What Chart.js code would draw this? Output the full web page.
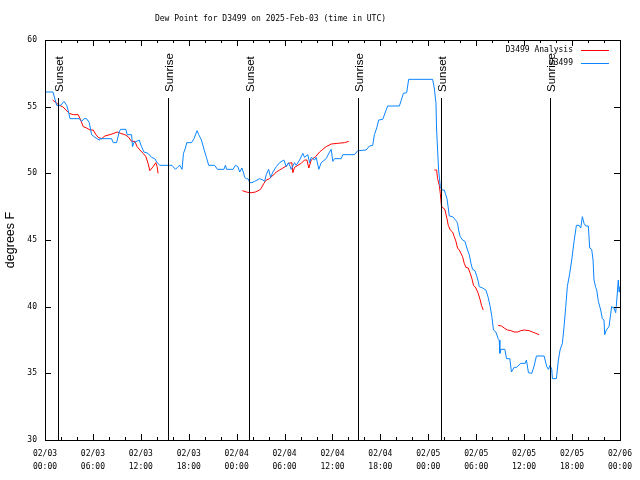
<!DOCTYPE html>
<html>
<head>
<meta charset="utf-8">
<script src="https://cdn.jsdelivr.net/npm/chart.js@4.4.1/dist/chart.umd.min.js"></script>
<style>
  html, body { margin: 0; padding: 0; background: #fff; }
</style>
</head>
<body>
<canvas id="dew" width="640" height="480"></canvas>
<script>
// hours since 02/03 00:00 UTC
const tickLabels = [
    ['02/03', '00:00'], ['02/03', '06:00'], ['02/03', '12:00'], ['02/03', '18:00'],
    ['02/04', '00:00'], ['02/04', '06:00'], ['02/04', '12:00'], ['02/04', '18:00'],
    ['02/05', '00:00'], ['02/05', '06:00'], ['02/05', '12:00'], ['02/05', '18:00'],
    ['02/06', '00:00']
];

const sunHours = [1.6, 15.4, 25.6, 39.25, 49.6, 63.25];
const sunLabels = ['Sunset', 'Sunrise', 'Sunset', 'Sunrise', 'Sunset', 'Sunrise'];

// D3499 observations
const obsHours = [
    0, 1.0, 1.46, 1.96, 2.38, 2.71, 2.91, 3.13, 4.29, 4.59, 4.88, 5.21, 5.54, 5.84, 6.25, 6.79,
    6.88, 8.34, 8.54, 8.96, 9.29, 9.46, 10.13, 10.29, 10.84, 10.96, 11.13, 11.79, 12.09, 12.38,
    12.91, 13.34, 13.75, 14.04, 14.38, 15.63, 15.9, 16.34, 16.66, 16.88, 17.16, 17.34, 17.59,
    17.75, 18.34, 18.66, 19.04, 19.25, 19.59, 19.91, 20.21, 20.5, 21.25, 21.59, 22.41, 22.59,
    22.75, 23.54, 23.84, 24.16, 24.38, 24.66, 24.88, 25.0, 25.21, 25.41, 25.66, 25.91, 26.25,
    26.88, 27.29, 27.5, 27.71, 28.0, 28.25, 28.54, 28.96, 29.38, 29.91, 30.21, 30.5, 30.84,
    31.25, 31.46, 31.88, 32.29, 32.5, 32.91, 33.13, 33.34, 33.75, 33.96, 34.29, 34.59, 35.21,
    35.63, 35.84, 36.04, 36.25, 37.09, 37.29, 38.75, 39.16, 40.21, 40.63, 41.04, 41.25, 41.54,
    41.79, 42.29, 42.63, 42.91, 44.38, 44.59, 44.88, 45.29, 45.54, 48.54, 48.75, 48.96, 49.04,
    49.29, 49.5, 49.71, 50.0, 50.13, 50.34, 50.5, 50.63, 51.04, 51.34, 51.54, 51.66, 51.79,
    52.0, 52.29, 52.59, 52.91, 53.13, 53.34, 53.54, 53.84, 54.09, 54.25, 54.38, 54.79, 55.21,
    55.5, 55.75, 55.96, 56.16, 56.46, 56.75, 56.88, 56.96, 57.09, 57.59, 57.79, 58.21, 58.41,
    58.75, 59.04, 59.59, 60.13, 60.29, 60.54, 60.96, 61.25, 61.54, 62.5, 62.84, 63.04, 63.25,
    63.46, 63.54, 64.04, 64.29, 64.5, 64.79, 65.0, 65.21, 65.41, 65.71, 65.96, 66.25, 66.46,
    66.54, 66.88, 67.09, 67.29, 67.5, 67.71, 68.04, 68.21, 68.46, 68.63, 68.75, 68.96, 69.09,
    69.29, 69.59, 69.79, 70.0, 70.09, 70.29, 70.63, 70.96, 71.25, 71.46, 71.54, 71.79, 71.88,
    71.96
];
const obsValues = [
    56.1, 56.1, 55.1, 55.1, 55.4, 55.1, 54.7, 54.1, 54.1, 53.9, 54.1, 54.1, 53.8, 52.9, 52.7, 52.5,
    52.6, 52.6, 52.3, 52.3, 53.1, 53.3, 53.3, 52.9, 52.9, 52.0, 52.3, 52.5, 52.0, 51.6,
    51.5, 51.2, 51.1, 50.8, 50.6, 50.6, 50.6, 50.3, 50.5, 50.6, 50.3, 51.5, 51.9,
    52.3, 52.3, 52.6, 53.2, 52.9, 52.5, 51.8, 51.2, 50.6, 50.6, 50.3, 50.3, 50.6,
    50.3, 50.3, 50.6, 50.5, 50.1, 50.4, 50.0, 49.7, 49.6, 49.6, 49.3, 49.3, 49.4,
    49.6, 49.5, 49.4, 49.9, 50.3, 49.7, 50.1, 50.5, 50.8, 51.0, 50.5, 50.8, 50.3,
    50.8, 50.6, 51.0, 51.5, 51.2, 51.4, 50.8, 51.2, 51.0, 51.2, 50.3, 50.8, 51.1,
    51.6, 51.8, 50.9, 51.1, 51.1, 51.4, 51.4, 51.7, 51.75, 52.05, 52.1, 52.9, 53.4,
    54.0, 54.05, 54.6, 55.05, 55.05, 55.45, 56.0, 56.05, 57.05, 57.05, 56.4, 55.25, 53.25,
    50.25, 49.0, 48.75, 48.75, 48.5, 48.1, 47.4, 46.8, 46.75, 46.55, 46.4, 46.25, 45.75,
    45.25, 45.0, 44.9, 44.25, 43.9, 43.25, 42.8, 42.7, 42.25, 41.9, 41.5, 41.4, 41.25,
    40.7, 40.0, 39.25, 38.25, 38.1, 37.6, 37.5, 36.5, 36.8, 36.8, 36.1, 36.1, 35.1,
    35.45, 35.45, 35.75, 35.75, 36.0, 35.05, 35.0, 35.55, 36.3, 36.3, 35.5, 35.3, 35.6,
    35.3, 34.6, 34.6, 36.0, 36.75, 37.25, 38.5, 40.0, 41.5, 42.5, 43.5, 44.9, 45.75,
    46.1, 46.1, 45.9, 46.75, 46.25, 46.05, 46.05, 44.4, 44.3, 43.5, 42.0, 41.45, 41.25,
    40.4, 39.75, 39.1, 39.0, 37.9, 38.25, 38.5, 40.0, 39.9, 39.55, 40.0, 42.0, 41.1,
    41.5
];

// D3499 Analysis (null = gap between runs)
const anaHours = [
    0.96, 1.38, 1.79, 2.21, 2.63, 3.04, 3.54, 4.16, 4.46, 4.79, 5.21, 5.63, 6.04, 6.38, 6.66,
    7.09, 7.5, 8.13, 8.63, 9.04, 9.46, 10.0, 10.41, 10.84, 11.25, 11.54, 11.88, 12.29, 12.63,
    12.91, 13.13, 13.54, 13.88, 14.04, 14.16,
    20,
    24.71, 25.21, 25.63, 25.91, 26.34, 26.88, 27.09, 27.41, 27.71, 28.13, 28.34, 28.66, 28.96,
    29.38, 29.79, 30.21, 30.5, 30.91, 31.04, 31.25, 31.66, 32.09, 32.5, 32.79, 33.04, 33.34,
    33.54, 33.88, 34.38, 34.79, 35.21, 35.84, 36.66, 37.5, 38.04,
    44,
    48.75, 49.04, 49.16, 49.38, 49.5, 49.66, 49.91, 50.09, 50.34, 50.5, 50.75, 51.04, 51.25,
    51.46, 51.66, 51.88, 52.09, 52.29, 52.5, 52.71, 53.0, 53.25, 53.46, 53.66, 53.96, 54.25,
    54.5, 54.66, 54.88,
    56,
    56.75, 57.16, 57.5, 57.91, 58.34, 58.75, 59.16, 59.59, 60.0, 60.63, 61.04, 61.46, 61.88
];
const anaValues = [
    55.5, 55.3, 55.1, 55.0, 54.75, 54.5, 54.4, 54.4, 54.0, 53.5, 53.4, 53.25, 53.25, 52.9, 52.7,
    52.6, 52.8, 52.9, 53.0, 53.1, 53.0, 52.9, 52.75, 52.4, 52.4, 52.0, 51.75, 51.5, 51.25,
    50.75, 50.2, 50.5, 50.8, 50.5, 50.0,
    null,
    48.7, 48.6, 48.55, 48.55, 48.6, 48.75, 48.9, 49.25, 49.5, 49.6, 49.75, 49.9, 50.1,
    50.25, 50.4, 50.55, 50.75, 50.8, 50.05, 50.45, 50.6, 50.75, 51.0, 51.0, 50.4, 51.0,
    51.1, 51.25, 51.6, 51.8, 52.0, 52.2, 52.25, 52.3, 52.4,
    null,
    50.25, 50.25, 49.6, 49.1, 48.5, 47.5, 47.4, 47.25, 46.6, 46.1, 45.75, 45.6, 45.25,
    44.9, 44.4, 44.25, 44.0, 43.75, 43.25, 42.95, 42.9, 42.5, 42.1, 41.6, 41.4, 41.0,
    40.5, 40.1, 39.75,
    null,
    38.6, 38.55, 38.4, 38.25, 38.2, 38.1, 38.1, 38.2, 38.25, 38.2, 38.1, 38.0, 37.9
];

const chartTitle = 'Dew Point for D3499 on 2025-Feb-03 (time in UTC)';
const yTitle = 'degrees F';
const FONT = '8px "DejaVu Sans Mono"';
const ROT_FONT = '11.5px "Liberation Sans"';
const YTITLE_FONT = '12.5px "Liberation Sans"';

// marcas, lineas de salida/puesta del sol, titulo y leyenda al estilo gnuplot
const gnuplotDecor = {
    id: 'gnuplotDecor',
    afterDraw(chart) {
        const ctx = chart.ctx;
        const a = chart.chartArea;
        const xs = chart.scales.x;
        const ys = chart.scales.y;
        ctx.save();
        ctx.strokeStyle = '#000';
        ctx.fillStyle = '#000';
        ctx.lineWidth = 1;

        // marco
        ctx.strokeRect(Math.round(a.left) + 0.5, Math.round(a.top) + 0.5,
            Math.round(a.right - a.left), Math.round(a.bottom - a.top));

        // marcas del eje x (cada 2 h, mayores cada 6 h)
        ctx.beginPath();
        for (let h = xs.min; h <= xs.max; h += 2) {
            const px = Math.round(xs.getPixelForValue(h)) + 0.5;
            const len = h % 6 === 0 ? 6 : 3;
            ctx.moveTo(px, a.bottom); ctx.lineTo(px, a.bottom - len);
            ctx.moveTo(px, a.top); ctx.lineTo(px, a.top + len);
        }
        // marcas del eje y
        for (let v = ys.min; v <= ys.max; v += 5) {
            const py = Math.round(ys.getPixelForValue(v)) + 0.5;
            ctx.moveTo(a.left, py); ctx.lineTo(a.left + 6, py);
            ctx.moveTo(a.right, py); ctx.lineTo(a.right - 6, py);
        }
        ctx.stroke();

        // salida / puesta del sol
        ctx.font = ROT_FONT;
        sunHours.forEach((h, i) => {
            const px = Math.round(xs.getPixelForValue(h)) + 0.5;
            ctx.beginPath();
            ctx.moveTo(px, a.top + 58);
            ctx.lineTo(px, a.bottom);
            ctx.stroke();
            ctx.save();
            ctx.translate(px + 1.5, a.top + 52);
            ctx.rotate(-Math.PI / 2);
            ctx.textAlign = 'left';
            ctx.textBaseline = 'middle';
            ctx.fillText(sunLabels[i], 0, 0);
            ctx.restore();
        });

        // titulo
        ctx.font = FONT;
        ctx.textAlign = 'center';
        ctx.textBaseline = 'middle';
        ctx.fillText(chartTitle, (a.left + a.right) / 2 - 62, 19);

        // titulo del eje y
        ctx.save();
        ctx.font = YTITLE_FONT;
        ctx.translate(10.5, (a.top + a.bottom) / 2);
        ctx.rotate(-Math.PI / 2);
        ctx.fillText(yTitle, 0, 0);
        ctx.restore();

        // leyenda
        const items = [chart.data.datasets[1], chart.data.datasets[0]];
        items.forEach((ds, i) => {
            const y = a.top + 10 + i * 13;
            ctx.textAlign = 'right';
            ctx.fillStyle = '#000';
            ctx.fillText(ds.label, a.right - 47, y);
            ctx.strokeStyle = ds.borderColor;
            ctx.beginPath();
            ctx.moveTo(a.right - 39, y + 0.5);
            ctx.lineTo(a.right - 11, y + 0.5);
            ctx.stroke();
        });
        ctx.restore();
    }
};

const ctx = document.getElementById('dew').getContext('2d');
new Chart(ctx, {
    type: 'line',
    data: {
        datasets: [{
            label: 'D3499',
            data: obsHours.map((h, i) => ({ x: h, y: obsValues[i] })),
            borderColor: '#0a84ff',
            borderWidth: 1,
            pointRadius: 0,
            tension: 0
        }, {
            label: 'D3499 Analysis',
            data: anaHours.map((h, i) => ({ x: h, y: anaValues[i] })),
            borderColor: '#ff0000',
            borderWidth: 1,
            pointRadius: 0,
            tension: 0,
            spanGaps: false
        }]
    },
    options: {
        responsive: false,
        animation: false,
        devicePixelRatio: 1,
        layout: { padding: { top: 40, right: 19, left: 0, bottom: 0 } },
        plugins: {
            legend: { display: false },
            title: { display: false },
            tooltip: { enabled: false }
        },
        scales: {
            x: {
                type: 'linear',
                min: 0,
                max: 72,
                afterFit: (scale) => { scale.height = 40; },
                grid: { display: false, drawTicks: false },
                border: { display: false },
                ticks: {
                    stepSize: 6,
                    autoSkip: false,
                    maxRotation: 0,
                    padding: 8,
                    color: '#000',
                    font: { family: 'DejaVu Sans Mono', size: 8, lineHeight: 1.6 },
                    callback: (v) => tickLabels[Math.round(v / 6)]
                }
            },
            y: {
                min: 30,
                max: 60,
                afterFit: (scale) => { scale.width = 45; },
                grid: { display: false, drawTicks: false },
                border: { display: false },
                ticks: {
                    stepSize: 5,
                    padding: 8,
                    color: '#000',
                    font: { family: 'DejaVu Sans Mono', size: 8 }
                }
            }
        }
    },
    plugins: [gnuplotDecor]
});
</script>
</body>
</html>
